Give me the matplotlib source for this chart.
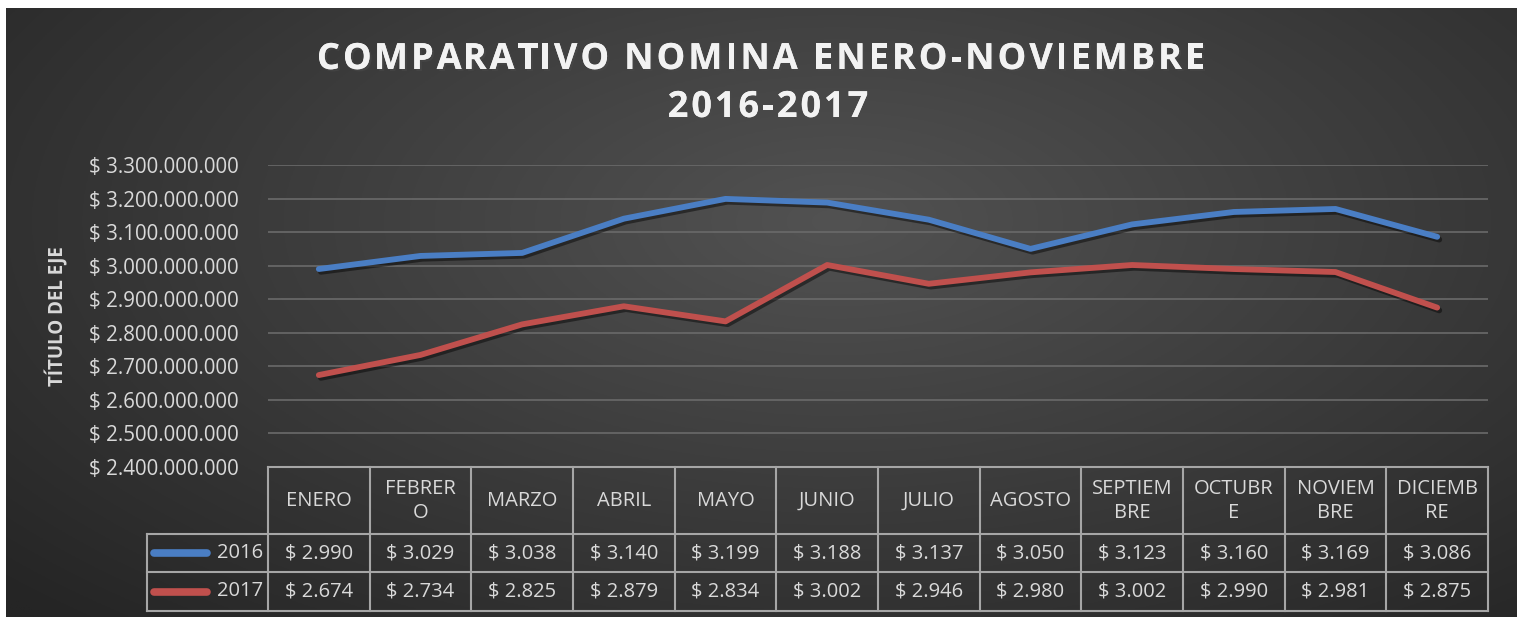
import numpy as np
import matplotlib.pyplot as plt
import matplotlib.patheffects as pe

# --- datos (millones de pesos) ---
meses = ["ENERO", "FEBRER\nO", "MARZO", "ABRIL", "MAYO", "JUNIO", "JULIO",
         "AGOSTO", "SEPTIEM\nBRE", "OCTUBR\nE", "NOVIEM\nBRE", "DICIEMB\nRE"]
nomina_2016 = [2990, 3029, 3038, 3140, 3199, 3188, 3137, 3050, 3123, 3160, 3169, 3086]
nomina_2017 = [2674, 2734, 2825, 2879, 2834, 3002, 2946, 2980, 3002, 2990, 2981, 2875]
series = [("2016", nomina_2016, "#4a7ec4"), ("2017", nomina_2017, "#c0504d")]
y_ticks = np.arange(2400, 3301, 100)

W, H = 1522, 618
FONT = "Open Sans"
TXT = "#d9d9d9"
LINE_TBL = "#a6a6a6"
FS = 14.5

fig = plt.figure(figsize=(W / 100, H / 100), dpi=100)
fig.patch.set_facecolor("white")
renderer = fig.canvas.get_renderer()

def fx(px):
    return px / W

def fy(py):
    return 1 - py / H

def ancho(s, **kw):
    t = fig.text(0, 0, s, **kw)
    w = t.get_window_extent(renderer).width
    t.remove()
    return w

def texto_espaciado(s, xc, yc, esp, **kw):
    # texto con espaciado entre letras (como el titulo de Excel)
    base = ancho("II", **kw)
    pos = [ancho("I" + s[:i] + "I", **kw) - base + i * esp for i in range(len(s))]
    total = ancho("I" + s + "I", **kw) - base + (len(s) - 1) * esp
    x0 = xc - total / 2
    for ch, p in zip(s, pos):
        if ch != " ":
            fig.text(fx(x0 + p), fy(yc), ch, ha="left", va="center", **kw)

# fondo degradado radial
bg = fig.add_axes([fx(6), fy(617), fx(1517 - 6), (617 - 8) / H])
yy, xx = np.mgrid[0:1:300j, 0:1:700j]
r = np.sqrt(((xx - 0.55) / 0.75) ** 2 + ((yy - 0.65) / 0.9) ** 2)
v = np.clip(1 - r, 0, 1)
c0, c1 = 0x25 / 255, 0x52 / 255
img = c0 + (c1 - c0) * v
bg.imshow(np.dstack([img, img, img]), aspect="auto", origin="lower",
          extent=[0, 1, 0, 1])
bg.set_axis_off()

# --- grafico de lineas ---
ax = fig.add_axes([fx(268), fy(467), fx(1488 - 268), (467 - 165) / H])
ax.set_facecolor("none")
x = np.arange(len(meses)) + 0.5
for nombre, vals, color in series:
    ax.plot(x, np.array(vals) * 1e6, color=color, lw=4.2, solid_capstyle="round",
            solid_joinstyle="round",
            path_effects=[pe.SimpleLineShadow(offset=(1.5, -2), alpha=0.45, rho=0.3),
                          pe.Normal()], zorder=3)
ax.set_xlim(0, len(meses))
ax.set_ylim(y_ticks[0] * 1e6, y_ticks[-1] * 1e6)
ax.set_yticks(y_ticks * 1e6)
ax.set_yticklabels(["$ " + f"{t * 1_000_000:,}".replace(",", ".") for t in y_ticks],
                   fontfamily=FONT, fontsize=14.8, color=TXT)
ax.tick_params(axis="y", length=0, pad=21)
ax.set_xticks([])
ax.grid(axis="y", color="#6a6a6a", lw=1.2)
for s in ax.spines.values():
    s.set_visible(False)

fig.text(fx(57), fy(316), "TÍTULO DEL EJE", rotation=90, ha="center", va="center",
         fontfamily=FONT, fontsize=13.5, fontweight="bold", color=TXT)

sombra = [pe.withSimplePatchShadow(offset=(1.5, -1.5), alpha=0.6), pe.Normal()]
estilo_titulo = dict(fontfamily=FONT, fontsize=26, fontweight="bold",
                     color="#f2f2f2", path_effects=sombra)
texto_espaciado("COMPARATIVO NOMINA ENERO-NOVIEMBRE", 761, 60, 3, **estilo_titulo)
texto_espaciado("2016-2017", 768, 108, 3, **estilo_titulo)

# --- tabla de datos ---
col_w = (1488 - 268) / len(meses)
tb = fig.add_axes([fx(147), fy(611), fx(1488 - 147), (611 - 467) / H])
tb.set_xlim(-(268 - 147) / col_w, len(meses))
tb.set_ylim(611 - 467, 0)
tb.set_axis_off()
y_rows = [0, 67, 105, 144]
lk = dict(color=LINE_TBL, lw=1.5, clip_on=False)
x_left = -(268 - 147) / col_w
tb.plot([0, len(meses)], [y_rows[0]] * 2, **lk)
for yr in y_rows[1:]:
    tb.plot([x_left, len(meses)], [yr] * 2, **lk)
tb.plot([x_left, x_left], [y_rows[1], y_rows[3]], **lk)
for i in range(len(meses) + 1):
    tb.plot([i, i], [y_rows[0], y_rows[3]], **lk)

for i, m in enumerate(meses):
    tb.text(i + 0.5, 34, m, ha="center", va="center", fontfamily=FONT,
            fontsize=FS, color=TXT, linespacing=1.3)

for r_i, (nombre, vals, color) in enumerate(series):
    yc = (y_rows[r_i + 1] + y_rows[r_i + 2]) / 2
    tb.plot([x_left + 7 / col_w, x_left + 60 / col_w], [yc, yc], color=color,
            lw=5.5, solid_capstyle="round")
    tb.text(-0.05, yc, nombre, ha="right", va="center", fontfamily=FONT,
            fontsize=FS, color=TXT)
    for i, v in enumerate(vals):
        tb.text(i + 0.5, yc, "$ " + f"{v:,}".replace(",", "."), ha="center",
                va="center", fontfamily=FONT, fontsize=FS, color=TXT)

fig.savefig("out.png", dpi=100, facecolor=fig.get_facecolor())
